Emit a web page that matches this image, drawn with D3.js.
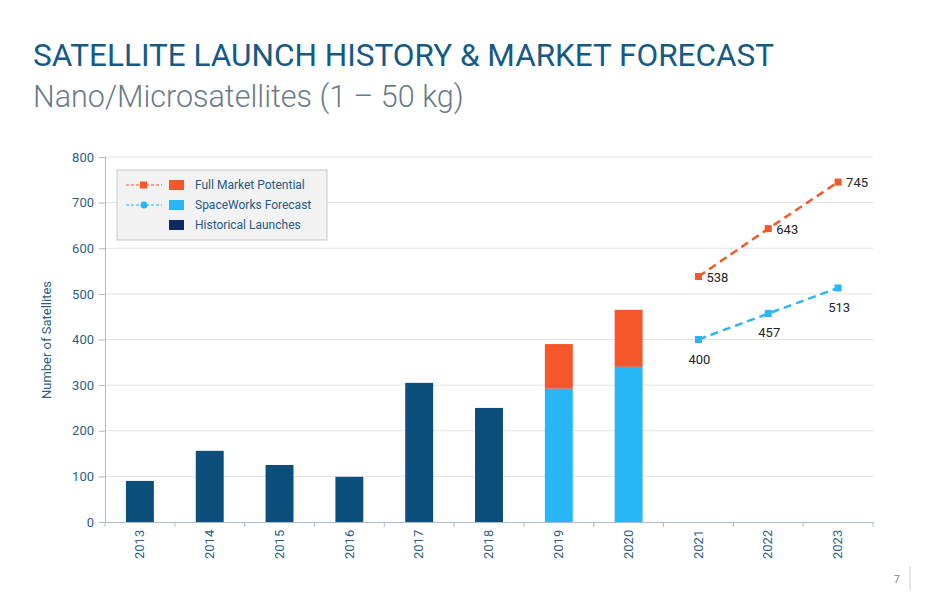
<!DOCTYPE html>
<html><head><meta charset="utf-8">
<script src="https://cdn.jsdelivr.net/npm/d3@7"></script>
<style>
body{margin:0;background:#fff;font-family:Roboto,"Noto Sans",sans-serif}
</style></head><body>
<svg id="c" width="952" height="596"></svg>
<script>
const years = ['2013','2014','2015','2016','2017','2018','2019','2020','2021','2022','2023']
const historical = [90, 156, 125, 99, 305, 250, null, null]
const forecastBars = {'2019': 292, '2020': 340}
const fullBars = {'2019': 390, '2020': 465}
const fullLine = [['2021', 538], ['2022', 643], ['2023', 745]]
const swLine = [['2021', 400], ['2022', 457], ['2023', 513]]
const yTicks = [0, 100, 200, 300, 400, 500, 600, 700, 800]

const navy = '#0b4f7a', blue = '#29b6f6', orange = '#f4572a', axisBlue = '#2a5f86'
const svg = d3.select('#c')

svg.append('text').attr('x', 33).attr('y', 66).attr('font-size', 31.5).attr('fill', '#155a86')
  .text('SATELLITE LAUNCH HISTORY & MARKET FORECAST')
svg.append('text').attr('x', 33).attr('y', 107).attr('font-size', 30.5).attr('font-weight', 300).attr('fill', '#6b7a86')
  .text('Nano/Microsatellites (1 – 50 kg)')

const L = 105, R = 873
const x = d3.scaleBand().domain(years).range([L, R]).paddingInner(0.6).paddingOuter(0.3)
const y = d3.scaleLinear().domain([0, 800]).range([522, 157])

const g = svg.append('g')
g.selectAll('line.grid').data(yTicks.slice(1)).join('line')
  .attr('x1', L).attr('x2', R).attr('y1', d => y(d)).attr('y2', d => y(d))
  .attr('stroke', '#e3e3e3')

const ya = g.append('g').attr('transform', `translate(${L},0)`).call(d3.axisLeft(y).tickValues(yTicks).tickSize(6).tickPadding(5))
ya.select('.domain').attr('stroke', '#a9bccb')
ya.selectAll('.tick line').attr('stroke', '#a9bccb')
ya.selectAll('text').attr('font-size', 13).attr('fill', axisBlue).attr('font-family', 'Roboto')

const xa = g.append('g').attr('transform', 'translate(0,522)')
  .call(d3.axisBottom(x.copy().paddingInner(0).paddingOuter(0)).tickSize(0))
xa.select('.domain').attr('stroke', '#a9bccb')
xa.selectAll('text').attr('font-size', 13).attr('fill', axisBlue).attr('font-family', 'Roboto')
  .attr('transform', 'rotate(-90)').attr('text-anchor', 'end').attr('dx', '-0.6em').attr('dy', '0.32em')
  .attr('x', 0).attr('y', 0)
g.selectAll('line.bt').data(years.concat(['end'])).join('line')
  .attr('x1', (d, i) => L + i * ((R - L) / 11)).attr('x2', (d, i) => L + i * ((R - L) / 11))
  .attr('y1', 522).attr('y2', 527).attr('stroke', '#a9bccb')

svg.append('text').attr('transform', 'translate(51,340) rotate(-90)').attr('text-anchor', 'middle')
  .attr('font-size', 13).attr('fill', axisBlue).text('Number of Satellites')

const hist = years.slice(0, 8).map((d, i) => ({ year: d, v: historical[i] })).filter(d => d.v != null)
g.selectAll('rect.h').data(hist).join('rect')
  .attr('x', d => x(d.year)).attr('width', x.bandwidth())
  .attr('y', d => y(d.v)).attr('height', d => y(0) - y(d.v)).attr('fill', navy)
const fc = Object.keys(forecastBars)
g.selectAll('rect.f').data(fc).join('rect')
  .attr('x', d => x(d)).attr('width', x.bandwidth())
  .attr('y', d => y(fullBars[d])).attr('height', d => y(forecastBars[d]) - y(fullBars[d])).attr('fill', orange)
g.selectAll('rect.s').data(fc).join('rect')
  .attr('x', d => x(d)).attr('width', x.bandwidth())
  .attr('y', d => y(forecastBars[d])).attr('height', d => y(0) - y(forecastBars[d])).attr('fill', blue)

const cx = d => x(d) + x.bandwidth() / 2
const line = d3.line().x(d => cx(d[0])).y(d => y(d[1]))
g.append('path').attr('d', line(fullLine)).attr('fill', 'none').attr('stroke', orange).attr('stroke-width', 2.5).attr('stroke-dasharray', '8,5')
g.append('path').attr('d', line(swLine)).attr('fill', 'none').attr('stroke', blue).attr('stroke-width', 2.5).attr('stroke-dasharray', '8,5')
g.selectAll('rect.fm').data(fullLine).join('rect')
  .attr('x', d => cx(d[0]) - 3.5).attr('y', d => y(d[1]) - 3.5).attr('width', 7).attr('height', 7).attr('fill', orange)
g.selectAll('rect.sm').data(swLine).join('rect')
  .attr('x', d => cx(d[0]) - 3.5).attr('y', d => y(d[1]) - 3.5).attr('width', 7).attr('height', 7).attr('fill', blue)
g.selectAll('text.fl').data(fullLine).join('text')
  .attr('x', d => cx(d[0]) + 8).attr('y', d => y(d[1]) + 5).attr('font-size', 13).attr('fill', '#222').text(d => d[1])
g.selectAll('text.sl').data(swLine).join('text')
  .attr('x', d => cx(d[0]) + 1).attr('y', d => y(d[1]) + 24).attr('text-anchor', 'middle').attr('font-size', 13).attr('fill', '#222').text(d => d[1])

// legend
const lg = svg.append('g').attr('transform', 'translate(117,170)')
lg.append('rect').attr('width', 210).attr('height', 70).attr('fill', '#f2f2f2').attr('stroke', '#c8c8c8')
const items = [['Full Market Potential', orange, 'sq'], ['SpaceWorks Forecast', blue, 'ci'], ['Historical Launches', '#0d2a5e', null]]
items.forEach((it, i) => {
  const yy = 15 + i * 20
  if (it[2]) {
    lg.append('line').attr('x1', 9).attr('x2', 45).attr('y1', yy).attr('y2', yy).attr('stroke', it[1]).attr('stroke-dasharray', '3,2')
    if (it[2] === 'sq') lg.append('rect').attr('x', 23).attr('y', yy - 3.5).attr('width', 7).attr('height', 7).attr('fill', it[1])
    else lg.append('circle').attr('cx', 27).attr('cy', yy).attr('r', 3.5).attr('fill', it[1])
  }
  lg.append('rect').attr('x', 52).attr('y', yy - 5).attr('width', 15).attr('height', 10).attr('fill', it[1])
  lg.append('text').attr('x', 78).attr('y', yy + 4).attr('font-size', 12).attr('fill', '#1d5a85').text(it[0])
})

svg.append('text').attr('x', 900).attr('y', 583).attr('font-size', 11).attr('fill', '#888').attr('text-anchor', 'end').text('7')
svg.append('line').attr('x1', 910).attr('x2', 910).attr('y1', 566).attr('y2', 590).attr('stroke', '#ccc')
</script></body></html>
